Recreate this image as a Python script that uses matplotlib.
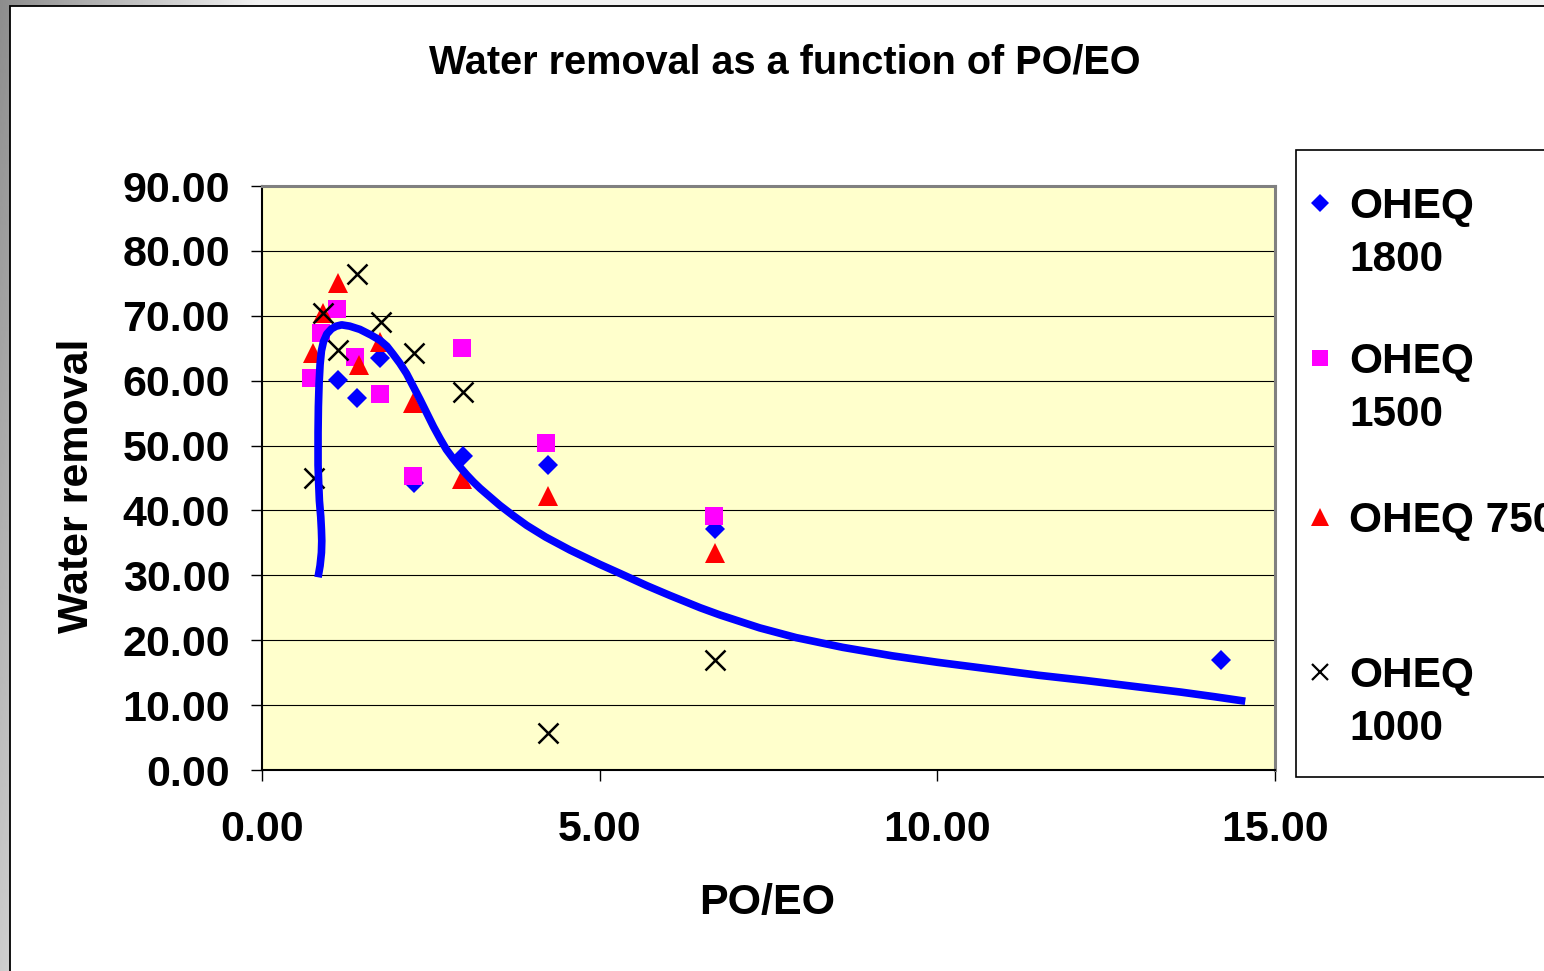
import numpy as np
import matplotlib
matplotlib.use("Agg")
import matplotlib.pyplot as plt
from matplotlib.patches import Rectangle
from matplotlib.lines import Line2D
from matplotlib.ticker import FormatStrFormatter

plt.rcParams['font.family'] = ['Liberation Sans', 'DejaVu Sans']
plt.rcParams['font.weight'] = 'bold'

# ---------------- data ----------------
title = "Water removal as a function of PO/EO"
x_label = "PO/EO"
y_label = "Water removal"

series_names = ["OHEQ 1800", "OHEQ 1500", "OHEQ 750", "OHEQ 1000"]
legend_lines = [["OHEQ", "1800"], ["OHEQ", "1500"], ["OHEQ 750"], ["OHEQ", "1000"]]

x_1800 = [1.13, 1.41, 1.75, 2.25, 2.97, 4.24, 6.71, 14.2]
y_1800 = [60.1, 57.3, 63.5, 44.2, 48.4, 47.0, 37.1, 16.9]

x_1500 = [0.73, 0.88, 1.11, 1.38, 1.74, 2.23, 2.96, 4.21, 6.69]
y_1500 = [60.4, 67.4, 71.1, 63.7, 58.0, 45.3, 65.0, 50.4, 39.2]

x_750 = [0.75, 0.91, 1.13, 1.43, 1.74, 2.24, 2.96, 4.24, 6.71]
y_750 = [64.2, 70.4, 75.0, 62.4, 66.0, 56.5, 44.8, 42.3, 33.4]

x_1000 = [0.77, 0.90, 1.13, 1.40, 1.76, 2.25, 2.97, 4.24, 6.71]
y_1000 = [45.0, 70.4, 64.8, 76.5, 69.1, 64.2, 58.2, 5.7, 16.9]

# hand-drawn trend curve
curve_x = [0.83, 0.86, 0.88, 0.885, 0.88, 0.87, 0.85, 0.84, 0.83, 0.83, 0.835, 0.845,
           0.86, 0.88, 0.91, 0.96, 1.03, 1.10, 1.18, 1.30, 1.45, 1.62, 1.75, 1.85,
           1.94, 2.04, 2.14, 2.24, 2.34, 2.44, 2.54, 2.64, 2.73, 2.83, 2.93, 3.03,
           3.13, 3.23, 3.33, 3.52, 3.72, 3.92, 4.20, 4.56, 5.00, 5.30, 5.70, 6.04,
           6.49, 6.78, 7.37, 7.91, 8.60, 9.33, 10.00, 10.75, 11.50, 12.19, 12.90,
           13.61, 14.10, 14.56]
curve_y = [29.7, 31.5, 33.5, 35.3, 37.0, 39.0, 41.5, 44.0, 47.0, 52.0, 56.0, 59.5,
           62.5, 64.6, 66.0, 67.2, 68.0, 68.4, 68.6, 68.4, 67.9, 67.0, 66.2, 65.3,
           64.1, 62.7, 61.1, 59.1, 57.1, 55.0, 52.9, 51.0, 49.4, 48.0, 46.7, 45.5,
           44.4, 43.4, 42.5, 40.8, 39.2, 37.7, 35.9, 33.9, 31.7, 30.3, 28.4, 26.9,
           25.0, 23.9, 21.9, 20.4, 18.9, 17.6, 16.6, 15.6, 14.6, 13.8, 12.9,
           12.0, 11.3, 10.6]

x_ticks = [0, 5, 10, 15]
y_ticks = [0, 10, 20, 30, 40, 50, 60, 70, 80, 90]

# ---------------- figure ----------------
W, H = 1544, 971
fig = plt.figure(figsize=(W / 100, H / 100), dpi=100)

# background (slide-like grey gradient) and white chart area
bg = fig.add_axes([0, 0, 1, 1], zorder=-1)
yy, xx = np.mgrid[0:H, 0:W]
grad = np.clip(0.55 + 0.40 * np.clip(xx / 260.0, 0, 1) + 0.25 * (yy / H), 0, 1)
bg.imshow(grad, extent=[0, 1, 0, 1], aspect='auto', cmap='gray', vmin=0, vmax=1,
          interpolation='bilinear')
bg.add_patch(Rectangle((10 / W, -0.05), 1.2, 1 - 6 / H + 0.05, transform=bg.transAxes,
                       facecolor='white', edgecolor='black', lw=1.3))
bg.set_xlim(0, 1)
bg.set_ylim(0, 1)
bg.axis('off')

ax = fig.add_axes([262 / W, 1 - 770 / H, (1275 - 262) / W, (770 - 186) / H])
ax.set_facecolor('#FFFFCC')

ax.plot(x_1800, y_1800, linestyle='none', marker='D', ms=10.5, color='#0000FF',
        markeredgewidth=0, label=series_names[0], zorder=3)
ax.plot(x_1500, y_1500, linestyle='none', marker='s', ms=12.5, color='#FF00FF',
        markeredgewidth=0, label=series_names[1], zorder=4)
ax.plot(x_750, y_750, linestyle='none', marker='^', ms=15, color='#FF0000',
        markeredgewidth=0, label=series_names[2], zorder=5)
ax.plot(x_1000, y_1000, linestyle='none', marker='x', ms=14, color='black',
        markeredgewidth=1.8, label=series_names[3], zorder=6)
ax.plot(curve_x, curve_y, color='#0000FF', lw=5.5, solid_joinstyle='round',
        solid_capstyle='butt', zorder=7)

ax.set_xlim(0, 15)
ax.set_ylim(0, 90)
ax.set_xticks(x_ticks)
ax.set_yticks(y_ticks)
ax.xaxis.set_major_formatter(FormatStrFormatter('%.2f'))
ax.yaxis.set_major_formatter(FormatStrFormatter('%.2f'))
ax.grid(axis='y', color='black', lw=0.8, zorder=1)
ax.set_axisbelow(True)
ax.tick_params(axis='both', direction='out', length=8, width=1.0, labelsize=31,
               colors='black')
ax.tick_params(axis='y', pad=15)
ax.tick_params(axis='x', pad=21)
for lab in ax.get_xticklabels() + ax.get_yticklabels():
    lab.set_fontweight('bold')
for s in ['top', 'right']:
    ax.spines[s].set_color('#808080')
    ax.spines[s].set_linewidth(2.2)
for s in ['left', 'bottom']:
    ax.spines[s].set_color('black')
    ax.spines[s].set_linewidth(1.5)

# titles
fig.text(785 / W, 1 - 63 / H, title, ha='center', va='center', fontsize=28.5,
         fontweight='bold')
fig.text(767 / W, 1 - 903 / H, x_label, ha='center', va='center', fontsize=31,
         fontweight='bold')
fig.text(77 / W, 1 - 486 / H, y_label, ha='center', va='center', fontsize=31,
         fontweight='bold', rotation=90)

# legend (manual, Excel-like, partly cut off at right edge)
fig.add_artist(Rectangle((1296 / W, 1 - 777 / H), 0.5, (777 - 150) / H,
                         transform=fig.transFigure, facecolor='white',
                         edgecolor='black', lw=1.2, zorder=2))
leg_marker_y = [203, 358, 517, 672]
leg_styles = [dict(marker='D', ms=9, color='#0000FF', markeredgewidth=0),
              dict(marker='s', ms=11, color='#FF00FF', markeredgewidth=0),
              dict(marker='^', ms=13, color='#FF0000', markeredgewidth=0),
              dict(marker='x', ms=12, color='black', markeredgewidth=1.6)]
for my, st, lines in zip(leg_marker_y, leg_styles, legend_lines):
    fig.add_artist(Line2D([1320 / W], [1 - my / H], linestyle='none',
                          transform=fig.transFigure, zorder=3, **st))
    for i, line in enumerate(lines):
        fig.text(1349 / W, 1 - (my + 15 + 53 * i) / H, line, ha='left',
                 va='baseline', fontsize=30.5, fontweight='bold', zorder=3)

fig.savefig('out.png', dpi=100)
